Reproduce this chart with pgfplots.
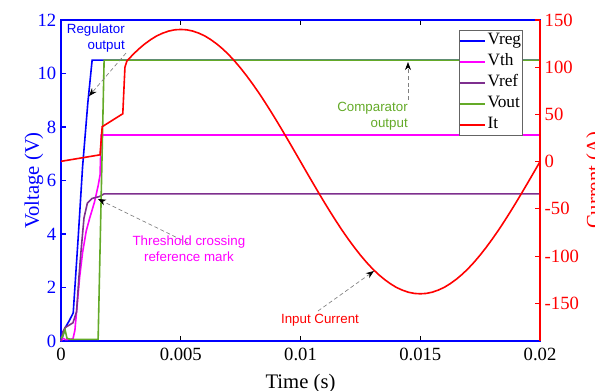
\documentclass[border=0pt]{standalone}
\usepackage{pgfplots}
\pgfplotsset{compat=1.18}
\usepackage{fontspec}
\setmainfont{Liberation Serif}
\newfontfamily\annfont{Liberation Sans}
\usetikzlibrary{arrows.meta}

\definecolor{vreg}{RGB}{0,0,255}
\definecolor{vth}{RGB}{255,0,255}
\definecolor{vref}{RGB}{126,47,142}
\definecolor{vout}{RGB}{100,170,40}
\definecolor{itc}{RGB}{255,0,0}
\definecolor{legframe}{RGB}{100,100,100}

\tikzset{
  sig/.style={line width=1.2pt},
  ann/.style={gray, line width=0.5pt, dash pattern=on 3pt off 2pt,
    -{Stealth[length=6pt,width=4.5pt,black]}},
  anntext/.style={font=\annfont\fontsize{10}{12}\selectfont, inner sep=0pt},
}
\pgfplotsset{
  common/.style={
    scale only axis, width=359.25pt, height=240.75pt,
    xmin=0, xmax=0.02,
    tick align=inside, major tick length=3.75pt,
    /pgf/number format/assume math mode=true,
    yticklabel={\pgfmathprintnumber{\tick}},
    ticklabel style={font=\fontsize{14}{16}\selectfont},
    every tick/.style={line width=0.8pt},
    clip=false,
  },
}

\begin{document}
\begin{tikzpicture}
% voltages on the left axis
\begin{axis}[common, name=main,
  ymin=0, ymax=12, ytick={0,2,...,12}, ytick pos=left,
  scaled x ticks=false,
  xtick={0,0.005,0.01,0.015,0.02},
  xticklabels={0,0.005,0.01,0.015,0.02},
  x axis line style={black, line width=0.8pt},
  y axis line style={vreg, line width=0.8pt},
  ytick style={vreg}, xtick style={black},
  yticklabel style={text=vreg},
  xticklabel style={yshift=-2pt},
]
\addplot[sig, vreg] coordinates {
  (0,0) (0.00008,0.2) (0.00017,0.49) (0.00034,0.75) (0.00051,1.05)
  (0.00072,3.9) (0.0009,6.5) (0.00112,8.9) (0.0013,10.5) (0.02,10.5)};
\addplot[sig, vth] coordinates {
  (0,0) (0.00008,0.1) (0.0002,0.05) (0.0005,0.08) (0.00058,0.4)
  (0.00068,1.4) (0.00078,2.4) (0.0009,3.3) (0.00105,4.1) (0.0012,4.6)
  (0.0014,5.2) (0.00155,5.8) (0.00163,6.2) (0.00168,7.7) (0.02,7.7)};
\addplot[sig, vref] coordinates {
  (0,0) (0.00008,0.35) (0.00017,0.5) (0.0005,0.68) (0.00065,1.1)
  (0.00075,2.4) (0.00083,3.3) (0.00096,4.6) (0.0011,5.15) (0.0013,5.33)
  (0.0016,5.4) (0.0018,5.5) (0.02,5.5)};
\addplot[sig, vout] coordinates {
  (0,0.1) (0.00008,0.2) (0.00017,0.42) (0.00025,0.1) (0.0004,0.06)
  (0.00155,0.06) (0.0018,10.5) (0.02,10.5)};
\node[rotate=90, anchor=south, inner sep=0pt, text=vreg,
  font=\fontsize{15.5}{18}\selectfont] at ([xshift=-13pt]rel axis cs:0,0.5) {Voltage (V)};
\node[anchor=base, inner sep=0pt, font=\fontsize{15.5}{18}\selectfont]
  at ([yshift=-35.25pt]rel axis cs:0.5,0) {Time (s)};
\end{axis}

% current on the right axis
\begin{axis}[common,
  ymin=-190, ymax=150, ytick={-150,-100,...,150},
  axis x line=none, axis y line*=right,
  y axis line style={itc, line width=0.8pt},
  ytick style={itc}, yticklabel style={text=itc},
  legend cell align=left,
  legend style={at={(rel axis cs:0.9645,0.9688)}, anchor=north east,
    draw=legframe, line width=0.8pt, inner sep=0pt, row sep=0pt,
    font=\fontsize{13}{15}\selectfont,
    nodes={inner sep=1pt, text height=9.8pt, text depth=3.95pt}},
  legend image code/.code={\draw[#1, line width=1.5pt] (0pt,0pt) -- (18.75pt,0pt);},
]
\addlegendimage{sig, vreg}
\addlegendimage{sig, vth}
\addlegendimage{sig, vref}
\addlegendimage{sig, vout}
\addplot[sig, itc] coordinates {
  (0,0.3) (0.00163,7.2) (0.00172,37) (0.00258,50.7) (0.00267,100) (0.00275,106.5)
  (0.003,113.3) (0.00325,119.4) (0.0035,124.7) (0.00375,129.3) (0.004,133.2)
  (0.00425,136.1) (0.0045,138.3) (0.00475,139.6) (0.005,140.0) (0.00525,139.6)
  (0.0055,138.3) (0.00575,136.1) (0.006,133.2) (0.00625,129.3) (0.0065,124.7)
  (0.00675,119.4) (0.007,113.3) (0.00725,106.5) (0.0075,99.0) (0.00775,90.9)
  (0.008,82.3) (0.00825,73.2) (0.0085,63.6) (0.00875,53.6) (0.009,43.3)
  (0.00925,32.7) (0.0095,21.9) (0.00975,11.0) (0.01,0) (0.01025,-11.0)
  (0.0105,-21.9) (0.01075,-32.7) (0.011,-43.3) (0.01125,-53.6) (0.0115,-63.6)
  (0.01175,-73.2) (0.012,-82.3) (0.01225,-90.9) (0.0125,-99.0) (0.01275,-106.5)
  (0.013,-113.3) (0.01325,-119.4) (0.0135,-124.7) (0.01375,-129.3) (0.014,-133.2)
  (0.01425,-136.1) (0.0145,-138.3) (0.01475,-139.6) (0.015,-140.0) (0.01525,-139.6)
  (0.0155,-138.3) (0.01575,-136.1) (0.016,-133.2) (0.01625,-129.3) (0.0165,-124.7)
  (0.01675,-119.4) (0.017,-113.3) (0.01725,-106.5) (0.0175,-99.0) (0.01775,-90.9)
  (0.018,-82.3) (0.01825,-73.2) (0.0185,-63.6) (0.01875,-53.6) (0.019,-43.3)
  (0.01925,-32.7) (0.0195,-21.9) (0.01975,-11.0) (0.02,0)};
\legend{Vreg,Vth,Vref,Vout,It}

\node[rotate=90, anchor=north, inner sep=0pt, text=itc,
  font=\fontsize{15.5}{18}\selectfont] at ([xshift=34.5pt]rel axis cs:1,0.5) {Current (A)};

% annotations
\draw[ann] (rel axis cs:0.1357,0.897) -- (rel axis cs:0.0585,0.763);
\node[anchor=east, align=right, text=vreg, anntext] at (rel axis cs:0.1336,0.944)
  {Regulator\\output};
\draw[ann] (rel axis cs:0.7244,0.751) -- (rel axis cs:0.7244,0.869);
\node[anchor=east, align=right, text=vout, anntext] at (rel axis cs:0.7244,0.701)
  {Comparator\\output};
\draw[ann] (rel axis cs:0.2651,0.3053) -- (rel axis cs:0.0772,0.4424);
\node[align=center, text=vth, anntext] at (rel axis cs:0.267,0.2866)
  {Threshold crossing\\reference mark};
\draw[ann] (rel axis cs:0.5365,0.0935) -- (rel axis cs:0.6534,0.2181);
\node[text=itc, anntext] at (rel axis cs:0.5407,0.0654) {Input Current};
\end{axis}

\pgfresetboundingbox
\path[use as bounding box] ([xshift=-45.75pt,yshift=-36.75pt]main.south west)
  rectangle ([xshift=41.25pt,yshift=15pt]main.north east);
\end{tikzpicture}
\end{document}
